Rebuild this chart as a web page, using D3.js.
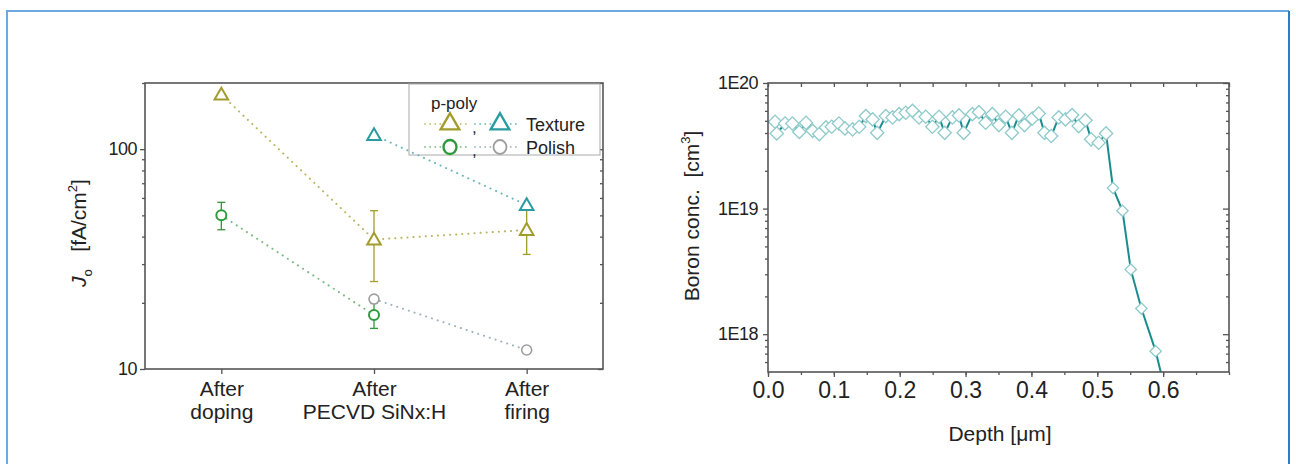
<!DOCTYPE html>
<html>
<head>
<meta charset="utf-8">
<script src="https://cdn.jsdelivr.net/npm/d3@7"></script>
<style>
  body { margin: 0; background: #fff; }
  svg text { font-family: "Liberation Sans", Arial, sans-serif; fill: #222; }
</style>
</head>
<body>
<div id="chart"></div>
<script>
// ---- left panel: J0 per process step ----
const stages = ["After doping", "After PECVD SiNx:H", "After firing"];
const stageLabels = [["After", "doping"], ["After", "PECVD SiNx:H"], ["After", "firing"]];
const textureA = [177, 38.8, 42.9];            // olive triangles
const textureAErr = [null, [25, 52.5], [33.2, 55]];
const textureB = [null, 116, 55.7];            // teal triangles
const polishA = [50, 17.6, null];              // green circles
const polishAErr = [[43, 57.3], [15.3, 20], null];
const polishB = [null, 20.8, 12.2];            // grey circles
const j0Ticks = [10, 100];
const j0Minor = [20, 30, 40, 50, 60, 70, 80, 90, 200];

// ---- right panel: boron profile ----
const depth = [0.0108, 0.0133, 0.0259, 0.037, 0.0476, 0.0577, 0.0679, 0.0779, 0.088, 0.0967,
  0.1077, 0.1168, 0.1285, 0.1385, 0.1486, 0.1588, 0.1658, 0.1789, 0.1891, 0.1991,
  0.2092, 0.2194, 0.2294, 0.2395, 0.2497, 0.2597, 0.2683, 0.28, 0.29, 0.2971,
  0.3103, 0.3203, 0.3305, 0.3406, 0.3506, 0.3608, 0.3703, 0.3809, 0.3895, 0.4012,
  0.4112, 0.4198, 0.43, 0.4415, 0.4517, 0.4618, 0.4718, 0.482, 0.4906, 0.5021,
  0.5133, 0.5238, 0.5383, 0.5508, 0.567, 0.5886, 0.605];
const boron = [4.91e19, 3.97e19, 4.76e19, 4.76e19, 4.08e19, 4.82e19, 4.16e19, 3.92e19, 4.43e19, 4.48e19,
  4.76e19, 4.35e19, 4.27e19, 4.48e19, 5.45e19, 5.13e19, 4.01e19, 5.45e19, 5.32e19, 5.65e19,
  5.79e19, 6.0e19, 5.32e19, 5.38e19, 4.48e19, 5.38e19, 4.01e19, 5.32e19, 5.52e19, 4.01e19,
  5.65e19, 5.86e19, 4.82e19, 5.65e19, 4.62e19, 5.38e19, 4.01e19, 5.52e19, 4.62e19, 5.22e19,
  5.72e19, 4.01e19, 3.78e19, 5.32e19, 5.13e19, 5.55e19, 4.54e19, 5.06e19, 3.56e19, 3.34e19,
  3.97e19, 1.46e19, 9.6e18, 3.28e18, 1.6e18, 7.33e17, 3.26e17];
const depthTicks = [0, 0.1, 0.2, 0.3, 0.4, 0.5, 0.6];
const boronTicks = [1e18, 1e19, 1e20];
const boronTickLabels = ["1E18", "1E19", "1E20"];

const olive = "#a29c2c", teal = "#2a9ca0", green = "#2f9a3c", grey = "#9e9e9e";

const svg = d3.select("#chart").append("svg")
  .attr("width", 1296).attr("height", 464);

// outer frame (bottom edge runs off the picture)
svg.append("path").attr("d", "M7,464 V11 H1289").attr("fill", "none")
  .attr("stroke", "#6fa8dc").attr("stroke-width", 2);
svg.append("path").attr("d", "M1289,11 V464").attr("fill", "none")
  .attr("stroke", "#2b7cc9").attr("stroke-width", 2);

// ================= left panel =================
const L = { left: 145, right: 603, top: 83, bottom: 369 };
const x1 = d3.scalePoint().domain(stages).range([L.left, L.right]).padding(0.5);
const y1 = d3.scaleLog().domain([10, 200]).range([L.bottom, L.top]);

const g1 = svg.append("g");

// ticks
g1.append("g").attr("transform", `translate(${L.left},0)`)
  .call(d3.axisLeft(y1).tickValues(j0Ticks).tickSize(5).tickPadding(3).tickFormat(d3.format("d")));
g1.append("g").attr("transform", `translate(${L.left},0)`)
  .call(d3.axisLeft(y1).tickValues(j0Minor).tickSize(3).tickFormat(""));
g1.append("g").attr("transform", `translate(${L.right},0)`)
  .call(d3.axisLeft(y1).tickValues(j0Ticks).tickSize(5).tickFormat(""));
g1.append("g").attr("transform", `translate(${L.right},0)`)
  .call(d3.axisLeft(y1).tickValues(j0Minor).tickSize(3).tickFormat(""));
const xa1 = g1.append("g").attr("transform", `translate(0,${L.bottom})`)
  .call(d3.axisBottom(x1).tickSize(5).tickPadding(6));
g1.selectAll(".domain").remove();
g1.selectAll(".tick line").attr("stroke", "#555").attr("stroke-width", 1.3);
g1.selectAll(".tick text").style("font-size", "18px").style("letter-spacing", "-0.5px").attr("fill", "#222");

xa1.selectAll(".tick text").each(function (d, i) {
  const t = d3.select(this).text(null).style("font-size", "21px").style("letter-spacing", "0px");
  stageLabels[i].forEach((s, k) => {
    t.append("tspan").attr("x", 0).attr("dy", k === 0 ? "0.75em" : "1.12em").text(s);
  });
});

g1.append("rect").attr("x", L.left).attr("y", L.top)
  .attr("width", L.right - L.left).attr("height", L.bottom - L.top)
  .attr("fill", "none").attr("stroke", "#555").attr("stroke-width", 1.6);

// legend box
const lg = g1.append("g");
lg.append("rect").attr("x", 409).attr("y", 84).attr("width", 191).attr("height", 71)
  .attr("fill", "#fff").attr("stroke", "#aaa").attr("stroke-width", 1);

// dotted connecting lines
function dotted(vals, color) {
  const pts = stages.map((s, i) => [x1(s), vals[i]]).filter(p => p[1] != null);
  g1.append("path")
    .attr("d", d3.line().x(p => p[0]).y(p => y1(p[1]))(pts))
    .attr("fill", "none").attr("stroke", color).attr("stroke-width", 2)
    .attr("stroke-dasharray", "0.1,6").attr("stroke-linecap", "round");
}
dotted(textureA, "#b9b45e");
dotted(textureB, "#68b7bb");
dotted(polishA, "#78ba80");
dotted(polishB, "#9cb1b8");

// error bars
function errBars(errs, color) {
  errs.forEach((e, i) => {
    if (!e) return;
    const cx = x1(stages[i]);
    const eg = g1.append("g").attr("stroke", color).attr("stroke-width", 1.3);
    eg.append("line").attr("x1", cx).attr("x2", cx).attr("y1", y1(e[0])).attr("y2", y1(e[1]));
    e.forEach(v => eg.append("line").attr("x1", cx - 4).attr("x2", cx + 4).attr("y1", y1(v)).attr("y2", y1(v)));
  });
}
errBars(textureAErr, olive);
errBars(polishAErr, green);

const tri = d3.symbol(d3.symbolTriangle, 80);
const triBig = d3.symbol(d3.symbolTriangle, 150);
function markers(vals, kind, color, sw) {
  stages.forEach((s, i) => {
    if (vals[i] == null) return;
    const cx = x1(s), cy = y1(vals[i]);
    if (kind === "tri") {
      g1.append("path").attr("d", tri()).attr("transform", `translate(${cx},${cy + 1})`)
        .attr("fill", "#fff").attr("stroke", color).attr("stroke-width", sw);
    } else {
      g1.append("circle").attr("cx", cx).attr("cy", cy).attr("r", 5)
        .attr("fill", "#fff").attr("stroke", color).attr("stroke-width", sw);
    }
  });
}
markers(textureA, "tri", olive, 2);
markers(textureB, "tri", teal, 2);
markers(polishA, "circ", green, 2);
markers(polishB, "circ", grey, 1.6);

// legend content
lg.append("text").attr("x", 431).attr("y", 109).style("font-size", "17px").text("p-poly");
const legRows = [
  { y: 124, kind: "tri", a: [olive, "#c9c57e"], b: [teal, "#7cc2c5"], label: "Texture" },
  { y: 147, kind: "circ", a: [green, "#8ac58f"], b: [grey, "#a9bcc2"], label: "Polish" }
];
legRows.forEach(r => {
  [[450, r.a], [500, r.b]].forEach(([cx, c]) => {
    lg.append("line").attr("x1", cx - 25).attr("x2", cx + 17).attr("y1", r.y).attr("y2", r.y)
      .attr("stroke", c[1]).attr("stroke-width", 1.8).attr("stroke-dasharray", "0.1,5")
      .attr("stroke-linecap", "round");
    if (r.kind === "tri") {
      lg.append("path").attr("d", triBig()).attr("transform", `translate(${cx},${r.y})`)
        .attr("fill", "#fff").attr("stroke", c[0]).attr("stroke-width", 2.4);
    } else {
      lg.append("ellipse").attr("cx", cx).attr("cy", r.y).attr("rx", 6.5).attr("ry", 7)
        .attr("fill", "#fff").attr("stroke", c[0]).attr("stroke-width", c[0] === grey ? 1.8 : 2.4);
    }
  });
  lg.append("text").attr("x", 472).attr("y", r.y + 9).style("font-size", "17px").text(",");
  lg.append("text").attr("x", 526).attr("y", r.y + 7).style("font-size", "18px").text(r.label);
});

// y title
const yt1 = g1.append("text").attr("transform", "translate(86,233) rotate(-90)")
  .attr("text-anchor", "middle").style("font-size", "21px");
yt1.append("tspan").style("font-style", "italic").text("J");
yt1.append("tspan").attr("dy", 6).style("font-size", "13px").text("o");
yt1.append("tspan").attr("dy", -6).text("\u00a0\u00a0 [fA/cm");
yt1.append("tspan").attr("dy", -9).style("font-size", "13px").text("2");
yt1.append("tspan").attr("dy", 9).text("]");

// ================= right panel =================
const R = { left: 768, right: 1229, top: 83, bottom: 372 };
const x2 = d3.scaleLinear().domain([0, 0.7]).range([R.left, R.right]);
const y2 = d3.scaleLog().domain([5e17, 1e20]).range([R.bottom, R.top]);
const g2 = svg.append("g");

const minorX = d3.range(0, 0.701, 0.05);
const minorY = [6e17, 7e17, 8e17, 9e17, 2e18, 3e18, 4e18, 5e18, 6e18, 7e18, 8e18, 9e18,
  2e19, 3e19, 4e19, 5e19, 6e19, 7e19, 8e19, 9e19];

g2.append("g").attr("transform", `translate(0,${R.bottom})`)
  .call(d3.axisBottom(x2).tickValues(depthTicks).tickSize(5).tickPadding(5).tickFormat(d3.format(".1f")))
  .selectAll("text").style("font-size", "23px");
g2.append("g").attr("transform", `translate(0,${R.bottom})`)
  .call(d3.axisBottom(x2).tickValues(minorX).tickSize(3).tickFormat(""));
g2.append("g").attr("transform", `translate(0,${R.top})`)
  .call(d3.axisBottom(x2).tickValues(minorX).tickSize(4).tickFormat(""));
g2.append("g").attr("transform", `translate(${R.left},0)`)
  .call(d3.axisLeft(y2).tickValues(boronTicks).tickSize(5).tickPadding(5)
    .tickFormat((d, i) => boronTickLabels[i]))
  .selectAll("text").style("font-size", "18px").style("letter-spacing", "-0.5px");
g2.append("g").attr("transform", `translate(${R.left},0)`)
  .call(d3.axisLeft(y2).tickValues(minorY).tickSize(3).tickFormat(""));
g2.append("g").attr("transform", `translate(${R.right},0)`)
  .call(d3.axisLeft(y2).tickValues(boronTicks).tickSize(6).tickFormat(""));
g2.append("g").attr("transform", `translate(${R.right},0)`)
  .call(d3.axisLeft(y2).tickValues(minorY).tickSize(3).tickFormat(""));
g2.selectAll(".domain").remove();
g2.selectAll(".tick line").attr("stroke", "#555").attr("stroke-width", 1.3);
g2.selectAll(".tick text").attr("fill", "#222");

svg.append("clipPath").attr("id", "clip2").append("rect")
  .attr("x", R.left).attr("y", R.top).attr("width", R.right - R.left).attr("height", R.bottom - R.top);

const prof = depth.map((d, i) => ({ d, c: boron[i] }));
const plot2 = g2.append("g").attr("clip-path", "url(#clip2)");
plot2.append("path")
  .attr("d", d3.line().x(p => x2(p.d)).y(p => y2(p.c))(prof))
  .attr("fill", "none").attr("stroke", "#1a8b8e").attr("stroke-width", 2);
plot2.selectAll(".dia").data(prof).enter().append("path")
  .attr("class", "dia")
  .attr("d", p => d3.symbol(d3.symbolSquare, p.c > 3e19 ? 88 : 64)())
  .attr("transform", p => `translate(${x2(p.d)},${y2(p.c)}) rotate(45)`)
  .attr("fill", "#fff").attr("stroke", "#8fcaca").attr("stroke-width", 1.3);

g2.append("rect").attr("x", R.left).attr("y", R.top)
  .attr("width", R.right - R.left).attr("height", R.bottom - R.top)
  .attr("fill", "none").attr("stroke", "#555").attr("stroke-width", 1.6);

g2.append("text").attr("x", 1000).attr("y", 441).attr("text-anchor", "middle")
  .style("font-size", "21px").text("Depth [\u03bcm]");

const yt2 = g2.append("text").attr("transform", "translate(699,216) rotate(-90)")
  .attr("text-anchor", "middle").style("font-size", "21px");
yt2.append("tspan").text("Boron conc.\u00a0\u00a0[cm");
yt2.append("tspan").attr("dy", -9).style("font-size", "13px").text("3");
yt2.append("tspan").attr("dy", 9).text("]");
</script>
</body>
</html>
